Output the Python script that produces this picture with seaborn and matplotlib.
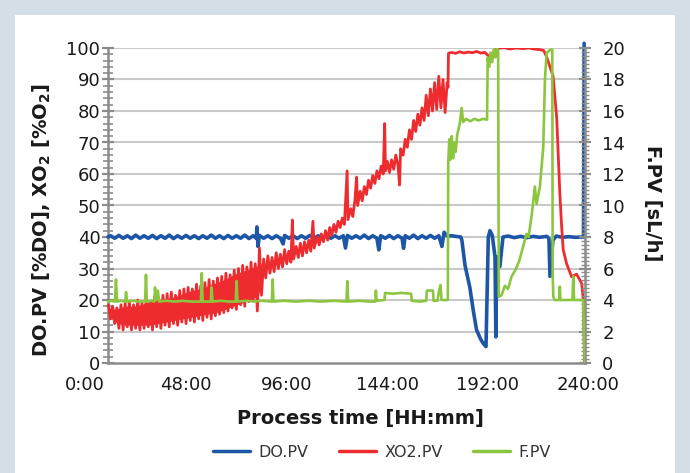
import matplotlib
matplotlib.use("Agg")
import matplotlib.pyplot as plt
import matplotlib.transforms as mtransforms
from matplotlib.patches import Rectangle
from matplotlib.lines import Line2D
from matplotlib.ticker import FixedLocator, MultipleLocator
import seaborn as sns
import numpy as np

# ---- data (process hours / values) ----
do_t = [14.3, 15.5, 17.5, 19.5, 21.5, 23.5, 25.5, 27.5, 29.5, 31.5, 33.5, 35.5, 37.5, 39.5,
        41.5, 43.5, 45.5, 47.5, 49.5, 51.5, 53.5, 55.5, 57.5, 59.5, 61.5, 63.5, 65.5, 67.5,
        69.5, 71.5, 73.5, 75.5, 77.5, 79.5, 81.5, 83.5, 85.0, 85.3, 85.8, 86.5, 88.5, 90.5,
        92.5, 94.5, 96.5, 97.8, 98.5, 100.5, 102.5, 104.5, 106.5, 108.5, 110.5, 112.5, 114.5,
        116.5, 118.5, 120.5, 122.5, 124.5, 126.5, 127.5, 128.5, 130.5, 132.5, 134.5, 136.5,
        138.5, 140.5, 142.5, 143.4, 144.3, 146.5, 148.5, 150.5, 152.5, 154.5, 155.2, 156.0,
        158.0, 160.0, 162.0, 164.0, 166.0, 168.0, 170.0, 172.0, 173.5, 174.5, 176.0, 178.0,
        180.0, 182.5, 183.0, 184.5, 186.8, 188.4, 190.0, 192.0, 193.2, 194.5, 195.6, 196.4,
        197.5, 198.8, 199.2, 199.6, 201.1, 202.6, 205.0, 208.0, 211.0, 214.0, 217.0, 220.0,
        223.5, 224.5, 225.0, 226.4, 228.0, 231.0, 234.0, 237.0, 241.0, 241.3]
do_v = [40.0, 40.4, 39.6, 40.5, 39.6, 40.4, 39.5, 40.6, 39.6, 40.4, 39.6, 40.5, 39.5, 40.4,
        39.6, 40.6, 39.5, 40.4, 39.6, 40.5, 39.6, 40.4, 39.5, 40.4, 39.6, 40.6, 39.6, 40.4,
        39.5, 40.5, 39.6, 40.4, 39.6, 40.6, 39.5, 40.4, 39.6, 43.2, 37.0, 40.5, 39.6, 40.4,
        39.5, 40.4, 39.6, 37.8, 40.5, 39.6, 40.4, 39.5, 40.4, 39.6, 40.5, 39.6, 40.4,
        39.5, 40.6, 39.6, 40.4, 39.6, 40.4, 36.5, 40.5, 39.6, 40.4, 39.6, 40.6,
        39.5, 40.4, 39.6, 35.9, 40.4, 39.6, 40.5, 39.5, 40.4, 39.6, 36.4, 40.4,
        39.6, 40.6, 39.5, 40.4, 39.6, 40.5, 39.6, 40.4, 37.0, 41.5, 40.3, 40.4,
        40.2, 40.0, 39.0, 31.0, 24.0, 16.8, 10.5, 7.5, 6.2, 5.2, 40.0, 42.0,
        40.5, 33.7, 8.3, 33.7, 30.6, 40.0, 40.3, 39.8, 40.2, 39.8, 40.2, 39.9,
        40.2, 39.5, 27.5, 39.0, 40.3, 39.9, 40.1, 39.9, 40.0, 101.5]

xo2_t = [14.5, 15.5, 16.5, 17.5, 18.5, 19.5, 20.5, 21.5, 22.5, 23.5, 24.5, 25.5, 26.5, 27.5,
         28.5, 29.5, 30.5, 31.5, 32.5, 33.5, 34.5, 35.5, 36.5, 37.5, 38.5, 39.5, 40.5, 41.5,
         42.5, 43.5, 44.5, 45.5, 46.5, 47.5, 48.5, 49.5, 50.5, 51.5, 52.5, 53.5, 54.5, 55.5,
         56.5, 57.5, 58.5, 59.5, 60.5, 61.5, 62.5, 63.5, 64.5, 65.5, 66.5, 67.5, 68.5, 69.5,
         70.5, 71.5, 72.5, 73.5, 74.5, 75.5, 76.5, 77.5, 78.5, 79.5, 80.5, 81.5, 82.5, 83.5,
         84.5, 85.5, 86.5, 87.5, 88.5,
         89.5, 90.5, 91.5, 92.5, 93.5, 94.5, 95.5, 96.5, 97.5, 98.5, 99.5, 100.5, 101.5, 102.2,
         102.8, 104.0, 105.0, 106.0, 107.0, 108.0, 109.0, 110.0, 111.0, 112.0, 112.6, 114.0,
         115.0, 116.0, 117.0, 118.0, 119.0, 120.0, 121.0, 122.0, 123.0, 124.0, 125.0, 126.0,
         127.0, 128.3, 128.7, 130.0, 131.0, 132.0, 132.8, 133.3, 134.5, 135.5, 136.5, 137.5,
         138.5, 139.5, 140.5, 141.5, 142.5, 143.5, 144.5, 145.5, 146.2, 146.6, 147.5, 148.5,
         149.5, 150.5, 151.5, 152.5, 153.3, 153.8, 155.0, 156.0, 157.0, 158.0, 159.0, 160.0,
         161.0, 162.0, 163.0, 164.0, 165.0, 166.0, 167.0, 168.0, 169.0, 170.0, 171.0, 172.0,
         173.0, 174.0, 175.0, 176.0, 176.4, 176.6,
         178.0, 180.0, 182.0, 184.0, 186.0, 188.0, 190.0, 192.0, 194.0, 195.5, 196.5, 198.0,
         199.0, 200.5, 203.0, 206.0, 209.0, 212.0, 215.0, 218.0, 220.0, 222.0, 223.4, 226.5,
         228.2, 229.7, 230.5, 231.3, 232.9, 235.3, 236.5, 237.7, 238.7, 240.1, 240.9, 241.2,
         241.5]
xo2_v = [18.5, 14.0, 18.0, 12.5, 17.5, 11.0, 18.5, 10.5, 19.0, 11.5,
         19.5, 10.5, 18.5, 11.0, 20.0, 10.5, 19.0, 11.0, 20.5, 11.5,
         19.5, 10.5, 21.0, 11.5, 20.5, 11.0, 21.5, 12.0, 22.0, 11.5,
         22.5, 12.5, 21.5, 12.0, 23.0, 13.0, 23.5, 12.5, 24.0, 13.5,
         23.5, 13.0, 25.0, 14.0, 24.5, 13.5, 25.5, 14.5, 26.5, 14.0,
         26.0, 15.0, 27.0, 15.5, 27.5, 16.0, 28.5, 16.5, 28.0, 17.5,
         29.5, 17.0, 30.0, 18.5, 31.0, 18.0, 30.5, 19.5, 32.0, 20.0,
         31.5, 16.5, 36.5, 21.5, 33.0,
         27.0, 34.0, 28.5, 33.5, 29.0, 35.0, 30.0, 34.5, 30.5, 36.0, 31.5, 35.5, 32.0, 45.4,
         33.0, 37.0, 33.5, 38.0, 34.0, 38.5, 35.0, 39.0, 35.5, 45.0, 36.5, 40.0,
         37.5, 41.0, 38.5, 42.0, 39.0, 43.0, 40.5, 44.0, 41.5, 45.0, 43.0, 46.0,
         44.0, 61.0, 45.5, 49.0, 46.5, 51.5, 59.0, 50.0, 54.5, 51.5, 56.0, 53.5,
         58.0, 55.5, 59.5, 57.0, 61.0, 58.5, 62.5, 60.0, 76.0, 61.0, 64.0, 60.5,
         64.5, 61.5, 66.0, 63.0, 56.5, 68.0, 66.0, 71.0, 68.5, 74.0, 71.0, 77.0,
         73.5, 79.0, 75.5, 81.0, 77.0, 85.0, 78.5, 87.0, 80.0, 89.0, 80.5, 91.0,
         81.0, 90.0, 79.5, 89.0, 87.5, 98.3,
         98.6, 98.3, 98.8, 98.4, 98.7, 98.5, 98.9, 98.4, 98.6, 97.6, 97.3, 98.5,
         99.5, 99.9, 100.1, 99.7, 100.0, 99.8, 100.0, 99.6, 99.5, 99.2, 97.2, 91.0,
         78.0, 54.0, 44.0, 36.0, 31.6, 27.4, 27.8, 28.2, 27.0, 25.3, 20.0, 9.5,
         0.0]

# dense oscillation of XO2 in the first days: the solid part of the band
xo2_band_t = [14.5, 18, 22, 26, 30, 34, 38, 42, 46, 50, 54, 58, 62, 66, 70, 74, 78, 82, 86, 88.5]
xo2_band_lo = [15.0, 13.0, 12.0, 12.0, 12.0, 12.0, 12.5, 13.0, 13.5, 14.0, 14.5, 15.0, 15.5,
               16.0, 17.0, 18.0, 19.0, 20.0, 21.5, 28.0]
xo2_band_hi = [17.5, 17.0, 18.0, 18.0, 18.5, 19.5, 20.0, 20.5, 21.0, 22.0, 23.0, 23.5, 24.5,
               25.5, 26.5, 28.0, 29.0, 30.0, 31.0, 32.0]

f_t = [14.3, 16.0, 17.6, 18.1, 18.6, 20.5, 22.5, 22.9, 23.4, 26.0, 29.0, 32.0, 32.4, 32.8,
       35.0, 36.4, 36.7, 37.2, 38.1, 38.6, 42.0, 46.0, 50.0, 54.0, 58.6, 59.0, 59.4, 63.3,
       63.7, 64.1, 68.0, 72.0, 75.2, 75.6, 76.0, 80.0, 84.0, 88.0, 92.4, 92.8, 93.2, 98.0,
       104.0, 110.0, 116.0, 122.0, 128.0, 128.4, 128.8, 134.0, 139.0, 141.8, 142.0, 142.3,
       146.1, 146.4, 150.0, 154.0, 158.8, 159.1, 163.0, 166.0, 166.3, 169.2, 169.5, 171.4,
       172.0, 172.8, 173.3, 175.5, 176.3, 176.5, 177.0, 177.5, 178.2, 178.8, 179.4, 180.0,
       180.8, 182.0, 182.9, 183.6, 185.0, 187.0, 189.0, 191.0, 193.0, 195.0, 195.3, 196.0,
       196.7, 197.4, 198.2, 199.0, 199.7, 200.3, 200.6, 201.9, 203.5, 205.0, 206.7, 208.5,
       210.4, 212.0, 213.8, 214.8, 216.3, 217.8, 218.6, 220.2, 221.8, 222.6, 223.4, 225.3,
       226.1, 226.3, 226.6, 227.2, 229.4, 229.7, 230.0, 235.7, 236.1, 236.5, 240.8, 241.6]
f_v = [3.9, 3.95, 3.9, 5.3, 3.9, 3.95, 3.9, 4.5, 3.9, 3.95, 3.9, 3.9, 5.6, 3.9,
       3.95, 3.9, 4.8, 4.0, 4.6, 3.9, 3.95, 3.9, 3.95, 3.9, 3.9, 5.7, 3.9, 3.9,
       4.8, 3.9, 3.95, 3.9, 3.9, 5.2, 3.9, 3.95, 3.9, 3.95, 3.9, 5.3, 3.9, 3.95,
       3.9, 3.95, 3.9, 3.95, 3.9, 5.2, 3.9, 3.95, 3.9, 3.9, 4.6, 3.95,
       4.0, 4.45, 4.4, 4.45, 4.4, 3.95, 3.9, 3.95, 4.6, 4.6, 3.95, 3.95,
       4.5, 4.95, 4.0, 4.0, 4.0, 12.7, 14.2, 12.9, 14.4, 13.0, 14.0, 13.4,
       14.5, 15.2, 16.2, 15.3, 15.5, 15.35, 15.5, 15.4, 15.5, 15.45, 19.4, 18.8,
       19.7, 19.1, 19.9, 19.4, 20.0, 19.8, 4.2, 4.3, 4.9, 4.7, 5.5, 5.9,
       6.5, 7.3, 8.2, 8.0, 9.4, 11.2, 10.1, 11.2, 13.7, 18.0, 19.7, 19.9,
       19.9, 5.5, 4.2, 4.0, 4.0, 4.85, 4.0, 4.0, 5.5, 4.0, 4.0, 0.0]

x_ticks = [0, 48, 96, 144, 192, 240]
x_ticklabels = ["0:00", "48:00", "96:00", "144:00", "192:00", "240:00"]
x_start, x_end = 14.3, 241.7

BLUE = "#1d56a6"
RED = "#ee2b2e"
GREEN = "#8cc63f"
GREY = "#8c8c8c"

sns.set_theme(style="white")
plt.rcParams["font.family"] = ["DejaVu Sans"]
plt.rcParams["mathtext.fontset"] = "dejavusans"

fig = plt.figure(figsize=(6.9, 4.73), dpi=100)
fig.patch.set_facecolor("#d3dee6")
fig.add_artist(Rectangle((15 / 690, 0), 660 / 690, 458 / 473, transform=fig.transFigure,
                         facecolor="white", edgecolor="none", zorder=-5))

# axes box: x=0 at 78px, right spine at 585px, y 0..100 from 363px to 48px
ax = fig.add_axes([78 / 690, 1 - 363 / 473, (585 - 78) / 690, (363 - 48) / 473])
ax.set_facecolor("none")
ax2 = ax.twinx()

ax.hlines(np.arange(10, 101, 10), x_start, x_end, colors="#c9c9c9", lw=1.5, zorder=0)

sns.lineplot(x=do_t, y=do_v, ax=ax, color=BLUE, lw=2.6, estimator=None, sort=False,
             legend=False, clip_on=False, zorder=3)
ax.fill_between(xo2_band_t, xo2_band_lo, xo2_band_hi, color=RED, lw=0, zorder=4)
sns.lineplot(x=xo2_t, y=xo2_v, ax=ax, color=RED, lw=2.0, estimator=None, sort=False,
             legend=False, zorder=4)
sns.lineplot(x=f_t, y=f_v, ax=ax2, color=GREEN, lw=1.9, estimator=None, sort=False,
             legend=False, zorder=4)

ax.set_xlim(0, x_end)
ax.set_ylim(0, 100)
ax2.set_ylim(0, 20)

for a in (ax, ax2):
    for s in a.spines.values():
        s.set_visible(False)
ax.spines["left"].set_visible(True)
ax.spines["left"].set_position(("data", x_start))
ax.spines["bottom"].set_visible(True)
ax.spines["bottom"].set_bounds(x_start, x_end)
ax2.spines["right"].set_visible(True)
for s in (ax.spines["left"], ax.spines["bottom"], ax2.spines["right"]):
    s.set_color(GREY)
    s.set_linewidth(1.8)

ax.xaxis.set_major_locator(FixedLocator(x_ticks))
ax.set_xticklabels(x_ticklabels)
ax.xaxis.set_minor_locator(FixedLocator([t for t in np.arange(19.2, 241, 9.6)
                                         if t % 48 > 1]))
ax.yaxis.set_major_locator(MultipleLocator(10))
ax.yaxis.set_minor_locator(MultipleLocator(2))
ax2.yaxis.set_major_locator(MultipleLocator(2))
ax2.yaxis.set_minor_locator(MultipleLocator(0.25))

ax.tick_params(axis="x", which="major", direction="inout", length=9, width=1.6,
               color=GREY, pad=5, labelsize=13, labelcolor="#1a1a1a")
ax.tick_params(axis="x", which="minor", direction="out", length=5, width=1.2, color=GREY)
ax.tick_params(axis="y", which="major", direction="inout", length=9, width=1.6,
               color=GREY, pad=1, labelsize=13, labelcolor="#1a1a1a")
ax.tick_params(axis="y", which="minor", direction="inout", length=7, width=1.2, color=GREY)
ax2.tick_params(axis="y", which="major", direction="inout", length=9, width=1.6,
                color=GREY, pad=8, labelsize=13, labelcolor="#1a1a1a")
ax2.tick_params(axis="y", which="minor", direction="inout", length=6, width=1.0, color=GREY)
ax.set_xlabel("")
ax.set_ylabel("")
ax2.set_ylabel("")

# the x labels in the original sit a bit right of their ticks
shift = mtransforms.ScaledTranslation(7 / 100, 0, fig.dpi_scale_trans)
for lab in ax.get_xticklabels():
    lab.set_transform(lab.get_transform() + shift)

fig.text(360 / 690, 1 - 418 / 473, "Process time [HH:mm]", ha="center", va="center",
         fontsize=14, fontweight="bold", color="#1a1a1a")
fig.text(42 / 690, 1 - 220 / 473, r"DO.PV [%DO], XO$_\mathbf{2}$ [%O$_\mathbf{2}$]",
         rotation=90, ha="center", va="center", fontsize=14, fontweight="bold", color="#1a1a1a")
fig.text(652 / 690, 1 - 203 / 473, "F.PV [sL/h]", rotation=-90, ha="center", va="center",
         fontsize=14, fontweight="bold", color="#1a1a1a")

handles = [Line2D([], [], color=BLUE, lw=2.5), Line2D([], [], color=RED, lw=2.5),
           Line2D([], [], color=GREEN, lw=2.5)]
leg = fig.legend(handles, ["DO.PV", "XO2.PV", "F.PV"], loc="center",
                 bbox_to_anchor=(382 / 690, 1 - 452 / 473), ncol=3, frameon=False,
                 fontsize=11.5, handlelength=2.3, handletextpad=0.55, columnspacing=1.9)
for t in leg.get_texts():
    t.set_color("#333333")

fig.savefig("out.png", dpi=100, facecolor=fig.get_facecolor())
